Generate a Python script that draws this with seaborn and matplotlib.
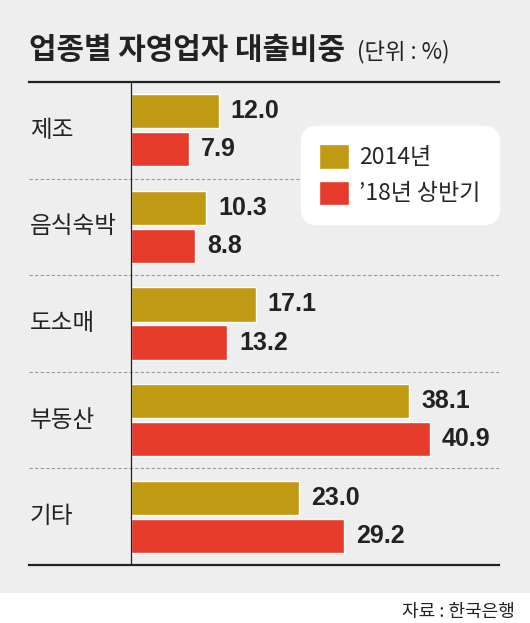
import matplotlib
matplotlib.use("Agg")
import matplotlib.pyplot as plt
from matplotlib.patches import Rectangle
import pandas as pd
import seaborn as sns

# 업종별 자영업자 대출비중 (단위 : %)
CATEGORIES = ["제조", "음식숙박", "도소매", "부동산", "기타"]
SERIES = ["2014년", "\u201918년 상반기"]
V_2014 = [12.0, 10.3, 17.1, 38.1, 23.0]
V_2018H1 = [7.9, 8.8, 13.2, 40.9, 29.2]

GOLD = "#c19a14"
RED = "#e63a2a"
BG = "#eeeeee"
INK = "#222222"

W, H = 530, 623

df = pd.DataFrame({
    "category": CATEGORIES * 2,
    "series": [SERIES[0]] * len(CATEGORIES) + [SERIES[1]] * len(CATEGORIES),
    "value": V_2014 + V_2018H1,
})

sns.set_theme(style="white")
plt.rcParams["font.family"] = ["Noto Sans CJK KR", "DejaVu Sans"]

fig = plt.figure(figsize=(W / 100, H / 100), dpi=100)
fig.patch.set_facecolor("white")
# fond gris jusqu'au-dessus de la source
fig.patches.append(Rectangle((0, 1 - 593 / H), 1, 593 / H, transform=fig.transFigure,
                             facecolor=BG, edgecolor="none", zorder=-10))

ax = fig.add_axes([29 / W, 1 - 565 / H, 470 / W, 483 / H])
ax.set_facecolor("none")

sns.barplot(data=df, x="value", y="category", hue="series", orient="h",
            palette=[GOLD, RED], width=0.787, gap=0.105, saturation=1,
            ax=ax, zorder=3)

ax.set_xlim(-13.97, 50.4)
ax.set_ylim(4.5, -0.5)
ax.set_xlabel("")
ax.set_ylabel("")
ax.set_xticks([])
ax.set_yticks([])

for side in ["left", "right"]:
    ax.spines[side].set_visible(False)
for side in ["top", "bottom"]:
    ax.spines[side].set_color(INK)
    ax.spines[side].set_linewidth(1.6)

ax.axvline(0, color=INK, lw=0.9, zorder=4)
for y in [0.5, 1.5, 2.5, 3.5]:
    ax.axhline(y, color="#9a9a9a", lw=0.8, ls=(0, (3, 2)), zorder=1)

for i, cat in enumerate(CATEGORIES):
    ax.text(0.002, i, cat, transform=ax.get_yaxis_transform(),
            ha="left", va="center", fontsize=17, color=INK)

for cont in ax.containers:
    ax.bar_label(cont, fmt="%.1f", padding=8.6, fontsize=18, color=INK,
                 fontfamily="Liberation Sans", fontweight="bold")

handles, labels = ax.get_legend_handles_labels()
leg = ax.legend(handles, labels, loc="upper right", bbox_to_anchor=(1.0, 0.909),
                borderaxespad=0, fontsize=16.5, frameon=True, fancybox=True,
                facecolor="white", edgecolor="white", framealpha=1,
                handlelength=1.3, handleheight=1.25, handletextpad=0.45,
                borderpad=0.8, labelspacing=0.5)
leg.get_frame().set_boxstyle("round,pad=0,rounding_size=0.7")
leg.set_zorder(5)

fig.text(29 / W, 1 - 59 / H, "업종별 자영업자 대출비중", fontsize=21.5,
         fontweight="bold", color=INK, ha="left", va="baseline")
fig.text(357 / W, 1 - 58 / H, "(단위 : %)", fontsize=16, color=INK,
         ha="left", va="baseline")
fig.text(515 / W, 1 - 617 / H, "자료 : 한국은행", fontsize=13, color=INK,
         ha="right", va="baseline")

fig.savefig("out.png", dpi=100)
